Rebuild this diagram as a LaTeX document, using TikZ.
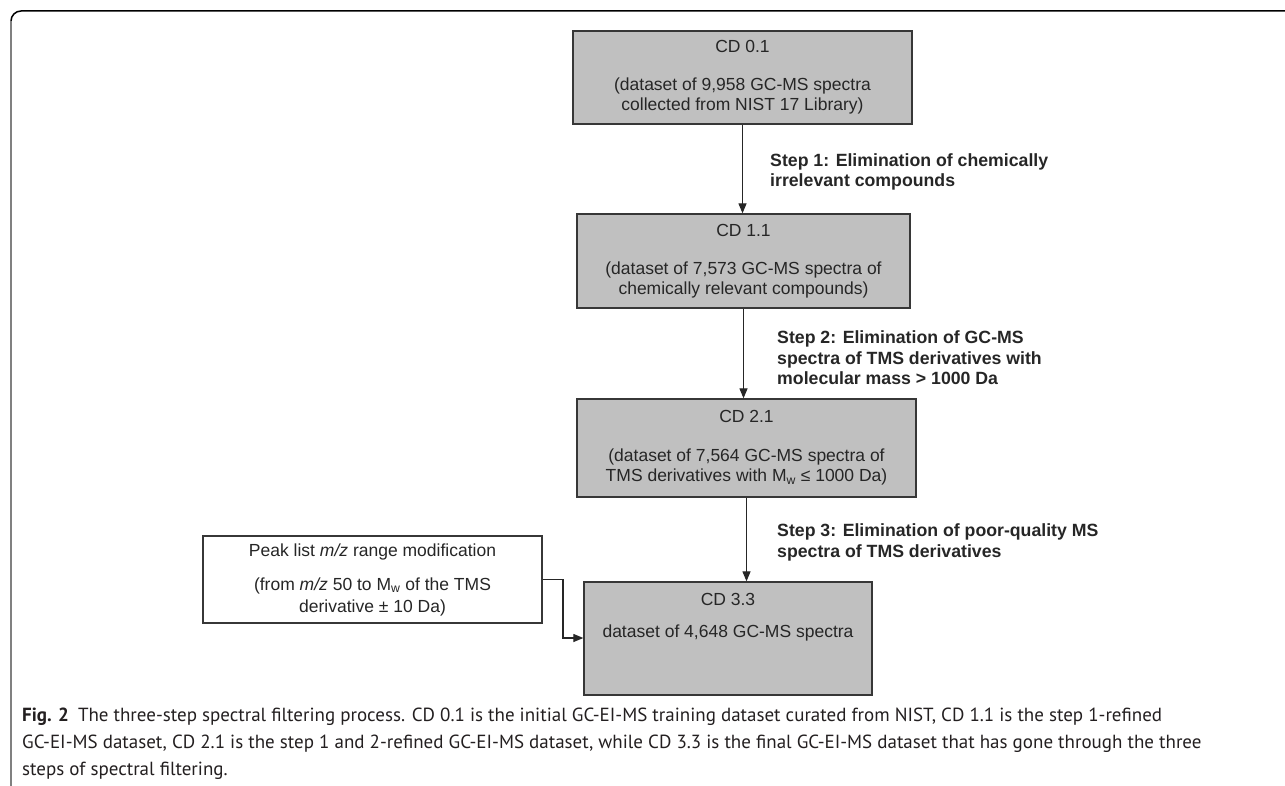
\documentclass[tikz,border=0pt]{standalone}
\usepackage{fontspec}
\setmainfont{Liberation Sans}
\newfontfamily\capfont{PT Sans}
\usetikzlibrary{arrows.meta}
\definecolor{boxfill}{RGB}{192,192,192}
\definecolor{boxline}{RGB}{55,55,55}
\definecolor{txtc}{RGB}{38,38,38}
\definecolor{capc}{RGB}{35,31,32}
\begin{document}
\begin{tikzpicture}[x=1pt,y=-1pt,
  box/.style={draw=boxline, fill=boxfill, line width=1.3pt, align=center, text=txtc,
    font=\fontsize{17.5}{20}\selectfont, inner sep=0pt},
  wbox/.style={box, fill=white},
  boxtxt/.style={align=center, text=txtc, font=\fontsize{17.5}{20}\selectfont, inner sep=0pt},
  steplbl/.style={anchor=west, align=left, font=\bfseries\fontsize{17.7}{20.5}\selectfont, text=txtc, inner sep=0pt},
  arr/.style={-{Triangle[length=10pt,width=8pt]}, line width=1.2pt, draw=black!85},
  caption/.style={anchor=base west, inner sep=0pt, text=capc, font=\capfont\fontsize{19}{27}\selectfont}]
\useasboundingbox (0,0) rectangle (1285,786);
% frame
\draw[black, line width=1.5pt] (1286,11) -- (21,11) arc[start angle=-90, end angle=-180, radius=10];
\draw[black!50, line width=1.5pt] (11,21) -- (11,787);
% boxes
\node[box, minimum width=339pt, minimum height=93pt] (cd01) at (742.5,77.5)
  {CD 0.1\\[18pt](dataset of 9,958 GC-MS spectra\\collected from NIST 17 Library)};
\node[box, minimum width=333pt, minimum height=94pt] (cd11) at (743.5,261)
  {CD 1.1\\[18pt](dataset of 7,573 GC-MS spectra of\\chemically relevant compounds)};
\node[box, minimum width=339pt, minimum height=98pt] (cd21) at (746.5,448)
  {CD 2.1\\[19pt](dataset of 7,564 GC-MS spectra of\\TMS derivatives with M\textsubscript{w} ≤ 1000 Da)};
\node[box, minimum width=288pt, minimum height=113pt] (cd33) at (728,638.5) {};
\node[boxtxt] (cd33t) at (728,617) {CD 3.3\\[12pt]dataset of 4,648 GC-MS spectra};
\node[wbox, minimum width=339pt, minimum height=87pt] (pl) at (372.5,579.5)
  {Peak list \textit{m/z} range modification\\[14pt](from \textit{m/z} 50 to M\textsubscript{w} of the TMS\\[2pt]derivative ± 10 Da)};
% step labels
\node[steplbl] (s1) at (770,172) {Step 1: Elimination of chemically\\irrelevant compounds};
\node[steplbl] (s2) at (777,358) {Step 2: Elimination of GC-MS\\spectra of TMS derivatives with\\molecular mass > 1000 Da};
\node[steplbl] (s3) at (777,542.5) {Step 3: Elimination of poor-quality MS\\spectra of TMS derivatives};
% connectors
\draw[arr] (cd01.south) -- (cd01.south |- cd11.north);
\draw[arr] (cd11.south) -- (cd11.south |- cd21.north);
\draw[arr] (cd21.south) -- (cd21.south |- cd33.north);
\coordinate (bend) at (563,579.5);
\coordinate (bend2) at (563,638);
\draw[arr] (pl.east) -- (bend) -- (bend2) -- (bend2 -| cd33.west);
% caption
\node[caption] (cap1) at (22,721) {\textbf{Fig. 2}\hspace{9pt}The three-step spectral filtering process. CD 0.1 is the initial GC-EI-MS training dataset curated from NIST, CD 1.1 is the step 1-refined};
\node[caption] (cap2) at (22,748) {GC-EI-MS dataset, CD 2.1 is the step 1 and 2-refined GC-EI-MS dataset, while CD 3.3 is the final GC-EI-MS dataset that has gone through the three};
\node[caption] (cap3) at (22,775) {steps of spectral filtering.};
\end{tikzpicture}
\end{document}
